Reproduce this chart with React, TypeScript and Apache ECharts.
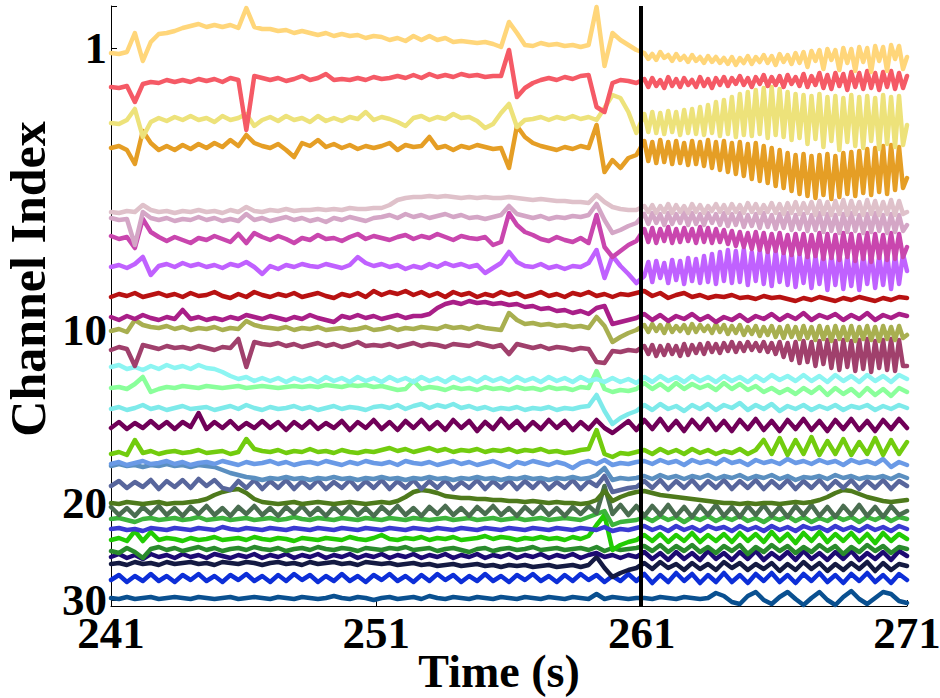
import React, { useEffect, useRef } from 'react';
import * as echarts from 'echarts';

// Every trace: 67 samples every 0.3 s from 241 s (to 260.8 s), then the rest of its
// values evenly spread from 261.1 s to 271 s (0.3 s or 0.15 s apart).
const LEFT_START = 241;
const LEFT_STEP = 0.3;
const LEFT_COUNT = 67;
const RIGHT_START = 261.1;
const T_END = 271;
const xTickValues = [241, 251, 261, 271];
const yTickValues = [42, 324, 497, 594];
const yTickLabels = ['1', '10', '20', '30'];
const markerTime = 260.97;

// display offset of each channel on the (reversed) channel axis
const channelOffsets = [
  39, 79, 114, 142, 204, 214, 231, 260, 289, 312,
  323, 342, 369, 381, 402, 419, 446, 457, 472, 478,
  497, 505, 513, 523, 533, 543, 550, 557, 572, 592,
];

const channelColors = [
  '#FFD67A', '#F55A66', '#EDE27A', '#E59E25', '#DFC1CA', '#D4A6C6', '#C946AE', '#C061FF', '#B81212', '#A91F88',
  '#A8AF50', '#A0406C', '#8CF5F2', '#8AFF9B', '#7DEAEA', '#700058', '#72CC0E', '#6A9AE6', '#5B8FC0', '#58669C',
  '#4E7A1C', '#4A6E50', '#3CB43C', '#3A3AD2', '#22CC04', '#2A8A2C', '#1C0A72', '#141A42', '#0C2ED8', '#0A5090',
];

// signal of each channel (display units, positive = downward)
const ch01 = [8, 9, 7, -12, 16, -3, -11, -12, -14, -17, -19, -21, -18, -20, -18, -20, -17, -37, -18, -16, -16, -14, -15, -12, -14, -12, -10, -12, -9, -11, -9, -10, -7, -9, -8, -5, -7, -4, -9, -5, -9, -5, -7, -3, -4, -3, -2, -3, -1, 2, -23, -12, 0, 1, -2, 0, -1, 1, 0, 2, 0, -38, 21, -12, -5, 0, 5,
  8, 14, 9, 15, 7, 13, 10, 16, 9, 15, 11, 17, 10, 16, 12, 18, 11, 17, 12, 18,
  13, 19, 12, 20, 13, 18, 11, 19, 12, 17, 10, 18, 11, 20, 9, 17, 10, 19, 8, 18,
  7, 22, 6, 16, 5, 24, 4, 15, 5, 25, 3, 18, 4, 26, 2, 17, 3, 27, 1, 16, 2, 26, 0, 14, 1, 24, 12];
const ch02 = [2, 3, 1, 17, -1, -3, -2, -5, -3, -5, -3, -6, -4, -6, -3, -7, -5, 45, -9, -7, -5, -7, -4, -6, -9, -5, -7, -11, -5, -6, -5, -7, -5, -8, -6, -7, -9, -7, -10, -7, -11, -8, -10, -8, -11, -9, -10, -8, -9, -9, -35, 12, 3, -2, -5, -7, -5, -8, -6, -9, -10, 22, 27, -2, -5, -4, -2,
  -6, 2, -7, 1, -5, 3, -8, 1, -6, 2, -7, 0, -5, 2, -8, 1, -6, 3, -7, 0,
  -8, 1, -7, -1, -9, 0, -7, 2, -8, -1, -10, 1, -8, 0, -9, 2, -10, -1, -8, 1,
  -11, 2, -9, 0, -12, 3, -10, 4, -12, 1, -11, 5, -13, 2, -12, 4, -14, 3, -12, 5, -13, 2, -14, 4, -12, 3, -9];
const ch03 = [3, 4, 0, -11, 17, 2, -2, 1, -3, 0, -4, 0, -2, 2, -4, 0, -2, -6, 6, 0, -3, 1, -4, 0, -2, 2, -4, 1, -2, 1, -3, -1, -8, 0, -3, -1, 2, 6, -2, -4, 0, -3, -1, -6, -2, -3, 1, 8, 4, -7, -16, 7, 0, -1, -3, 0, -3, -1, -4, -1, -3, 0, -12, -25, -22, -8, 13,
  -6, 12, -8, 13, -7, 14, -9, 12, -8, 15, -10, 13, -11, 14,
  -13, 15, -15, 13, -18, 16, -20, 14, -23, 17, -26, 15, -28, 16, -30, 14, -32, 18, -33, 15, -31, 17,
  -28, 20, -26, 18, -25, 24, -24, 19, -26, 27, -23, 21, -24, 30, -22, 22, -25, 26, -23, 28, -24, 21, -22, 29, -25, 24, -23, 27, -24, 25, 5];
const ch04 = [0, -2, 2, 16, -17, -5, 2, -2, 2, -3, 1, -4, 0, -5, -1, -8, -2, -13, -5, -2, 0, -4, 2, 9, -5, -2, -8, -1, -4, 0, -3, 1, -2, 0, -2, -5, 2, -3, -1, -2, -11, 0, -2, 2, -2, 0, -3, -1, 1, 0, 20, -22, -11, -5, -2, 0, 2, -1, 1, -2, 0, -23, 24, 12, 20, 10, 7,
  -7, 13, -6, 15, -8, 14, -6, 16, -7, 15, -5, 17, -7, 16,
  -6, 18, -8, 20, -6, 22, -7, 24, -5, 26, -6, 28, -4, 31, -5, 33, -2, 35, 0, 38, 2, 40,
  5, 43, 7, 46, 6, 48, 8, 50, 7, 47, 6, 51, 8, 49, 5, 46, 4, 48, 3, 45, 1, 47, 0, 44, -2, 46, -3, 42, -1, 40, 30];
const ch05 = [2, 3, 1, 2, -5, 0, 2, 1, 3, 1, 2, 0, 2, 1, 3, 0, 2, -3, 1, 2, 0, 1, -1, 1, 0, 0, -1, 0, -1, 0, -2, -1, -1, -2, -2, -5, -10, -12, -13, -13, -14, -13, -14, -13, -12, -13, -12, -13, -12, -12, -13, -12, -11, -10, -11, -10, -9, -9, -8, -8, -7, -15, -8, -3, -1, 0, 0,
  -4, 2, -5, 3, -4, 2, -6, 3, -5, 2, -4, 3, -6, 2, -5, 3, -4, 1, -6, 2,
  -5, 3, -6, 2, -5, 3, -7, 2, -6, 3, -5, 2, -7, 3, -6, 4, -7, 3, -8, 4,
  -7, 3, -8, 5, -9, 4, -8, 5, -9, 4, -10, 5, -9, 4, -8, 5, -10, 4, -9, 5, -8, 4, -10, 5, -9, 4, 2];
const ch06 = [-2, 0, -1, 25, -8, -2, 0, -2, 1, -1, 0, -3, 0, -2, 1, -1, 1, -6, 0, -2, 1, -1, -3, 0, -2, 1, -1, 2, -2, 0, -3, -1, 1, -2, -3, -5, -2, -6, -3, -5, -2, -4, -6, -3, -5, -2, -3, -1, -3, -5, -14, -6, -4, -2, -4, -1, -3, -2, -4, -3, -5, -16, 0, 13, 10, 6, 3,
  -6, 4, -7, 3, -6, 5, -7, 4, -6, 3, -8, 5, -7, 4, -6, 5, -7, 3, -6, 5,
  -7, 6, -6, 5, -7, 7, -5, 6, -6, 8, -7, 7, -5, 9, -6, 8, -7, 10, -5, 9,
  -6, 11, -5, 10, -7, 12, -6, 11, -5, 13, -6, 12, -7, 11, -5, 13, -6, 12, -7, 11, -5, 13, -6, 12, -5, 11, 5];
const ch07 = [-1, 2, 0, 11, -18, -5, 0, 4, 0, 3, 6, 1, 3, -1, 2, 5, -3, 6, -4, 0, 3, -1, 2, 6, 1, 3, -2, 2, 1, 4, 0, -3, 2, -1, 1, 3, 0, -2, 2, -1, 1, -3, 0, 3, -1, 1, 2, 0, 8, 5, -24, -12, -5, -2, 2, 4, 0, 3, 5, 1, 6, -22, 10, 20, 14, 8, 4,
  -8, 5, -9, 6, -8, 4, -10, 6, -8, 5, -9, 4, -8, 6, -10, 5, -9, 6, -8, 5,
  -7, 7, -6, 9, -5, 10, -4, 12, -5, 13, -4, 15, -3, 14, -4, 16, -2, 18, -3, 17,
  -3, 20, -2, 19, -4, 22, -3, 21, -2, 23, -4, 20, -3, 24, -2, 22, -4, 25, -3, 21, -2, 23, -4, 22, -3, 20, 10];
const ch08 = [1, -1, 2, -2, -9, 9, 0, -2, 1, -3, 0, -2, 1, -1, 2, -2, 0, -4, 1, 8, 0, 3, -1, 1, -2, 0, 1, -2, 0, 2, -1, -9, -3, 0, -2, 1, -1, 3, 0, 2, -2, 1, -3, 0, -2, 1, -1, 7, 2, -3, -14, -4, 0, 1, -2, 2, 0, 3, 0, 1, -3, -16, 12, -10, 0, 8, 17,
  10, -4, 16, -5, 12, -3, 17, -6, 14, -5, 18, -8, 15, -7, 17, -10, 16, -12, 18, -14,
  15, -16, 17, -15, 16, -17, 19, -14, 15, -16, 18, -13, 20, -15, 16, -12, 19, -14, 21, -11,
  17, -13, 22, -10, 18, -12, 24, -11, 19, -13, 23, -10, 20, -12, 24, -11, 18, -13, 22, -10, 19, -12, 23, -11, 18, -12, 5];
const ch09 = [2, -1, 1, -2, 2, 0, -2, 1, -1, 2, -2, 1, 0, -3, 1, 3, -1, 2, -3, 0, 2, -1, 1, -2, 2, 0, -2, 1, 3, -1, 1, -2, 2, -4, 0, -3, -1, -4, 0, -3, 1, -2, 2, -3, 0, -2, 2, -1, 1, -3, 0, -2, 2, 0, -3, 1, -1, 2, -2, 0, -3, 1, -1, 2, -1, 0, -2, -4, 1, -2, 3, 0, -2, 2, 0, 3, 1, 2, 0, 3, 2, 4, 1, 3, 2, 4, 6, 3, 5, 2, 4, 6, 3, 5, 2, 4, 6, 3, 5, 2, 3];
const ch10 = [-1, 2, -2, 1, -3, 0, 2, -1, 1, -8, 1, -1, 2, 0, 2, -1, 1, -3, -1, 1, -2, 0, 2, -1, 1, -3, 0, 2, 4, -2, 0, -3, 0, -2, 1, -1, -3, 0, -2, -2, -4, -10, -14, -16, -14, -17, -15, -16, -14, -15, -13, -14, -11, -12, -9, -10, -7, -8, -5, -7, -4, -10, -12, 6, 4, 2, 0, -4, 2, -3, 3, -2, 1, -4, 2, -2, 4, -1, 2, -3, 3, -2, 1, -4, 2, -3, 1, -5, 2, -3, 0, -4, 2, -3, 1, -5, 2, -3, 0, -4, -2];
const ch11 = [2, 0, 3, -9, -4, -2, -1, -3, 0, -2, 1, -1, 0, -2, 1, -1, 0, -8, -4, -2, -1, 0, -2, 1, -1, 0, -2, 1, 0, -1, 1, 0, -2, 1, 0, -2, 1, -1, 0, -2, -1, 0, -3, -1, -2, 0, -3, -1, 0, 1, -16, -9, -5, -6, -4, -5, -3, -4, -2, -3, -1, -12, -3, 13, 8, 4, 1,
  -4, 3, -5, 2, -4, 4, -5, 3, -3, 2, -4, 4, -5, 3, -4, 2, -3, 4, -5, 3,
  -4, 5, -3, 4, -4, 6, -2, 5, -3, 7, -2, 6, -3, 8, -2, 9, -3, 8, -2, 10,
  -3, 9, -2, 11, -3, 10, -2, 12, -3, 10, -2, 11, -3, 12, -2, 10, -3, 11, -2, 12, -3, 10, -2, 11, -3, 9, 6];
const ch12 = [2, -1, 1, 18, -3, -1, 1, -2, 0, -1, 1, -2, 0, 2, -1, 0, -9, 19, -6, -4, -3, -5, -2, -4, -1, -3, -5, -2, -4, -1, -3, -6, -2, -3, -2, -4, -1, -3, -5, -2, -4, -3, -1, -4, -3, -2, -5, -3, -1, -3, 6, -4, -2, 0, -2, 1, -1, 0, 2, 0, 1, 14, 15, 3, 4, 2, 3,
  -2, 6, -3, 8, -2, 7, -3, 6, -2, 8, -4, 7, -3, 5, -4, 6, -5, 4, -4, 5,
  -5, 3, -6, 4, -5, 3, -6, 2, -5, 3, -6, 4, -5, 6, -6, 9, -5, 12, -6, 15,
  -7, 14, -6, 18, -7, 16, -8, 20, -7, 22, -8, 19, -7, 23, -8, 21, -9, 24, -7, 20, -8, 22, -9, 23, -8, 18, 18];
const ch13 = [-8, -10, -6, -8, -5, -9, -6, -10, -7, -9, -6, -10, -7, -6, -3, 1, 4, 2, 6, 3, 6, 3, 7, 3, 6, 3, 7, 2, 6, 3, 7, 2, 6, 3, 7, 2, 6, 3, 7, 2, 6, 3, 7, 2, 6, 3, 7, 2, 6, 3, 7, 2, 6, 3, 7, 2, 6, 3, 7, 2, 6, 4, 7, 3, 7, 4, 8, 2, 7, 1, 6, 2, 7, 1, 6, 2, 7, 1, 6, 2, 7, 1, 6, 0, 5, 1, 6, 0, 6, 1, 7, 0, 6, 1, 7, 0, 6, 1, 7, 0, 4];
const ch14 = [1, 0, 2, -3, -10, 5, 2, 0, 1, -1, 0, 1, -1, 0, 1, 0, -1, 1, 0, -1, 0, 1, 0, -1, 0, -1, 0, -2, -1, 0, -2, -1, -2, 0, -1, 1, 3, 2, -6, 2, 0, 1, 3, 0, 2, 1, 3, 0, 2, 1, 3, 0, 2, 1, 3, 0, 2, 1, 3, 0, 1, -16, 2, 5, 3, 4, 2, -4, 2, -3, 3, -4, 2, -3, 1, -2, 3, -4, 2, -3, 3, -1, 5, 1, 6, 2, 7, 1, 6, 0, 8, 1, 7, 2, 9, 1, 8, 2, 9, 1, 5];
const ch15 = [1, -1, 2, 0, -3, 1, -1, 2, 0, -2, 1, 0, -1, 2, 0, -2, 1, -3, 0, 2, -1, 1, 0, -2, 1, -1, 2, 0, -2, 1, -1, 0, 2, -1, -2, 0, -3, 1, -2, -4, 0, -3, -1, -4, 0, -2, 1, -1, 2, 0, 1, -1, 2, 0, 1, -1, 2, 0, 1, -1, -2, -13, 3, 16, 10, 6, 3, -3, 2, -4, 1, -2, 3, -3, 1, -4, 2, -3, 0, -5, 2, -3, 1, -4, 3, -2, 1, -3, 2, -2, 1, -3, 2, -2, 0, -3, 2, -2, 1, -3, 0];
const ch16 = [3, -3, 4, -2, 3, -4, 3, -3, 4, -3, 2, -12, 4, -3, 3, -4, 4, -2, 3, -4, 3, -3, 5, -3, 3, -4, 4, -2, 3, -4, 5, -3, 3, -5, 4, -3, 5, -4, 3, -5, 4, -3, 5, -5, 3, -4, 6, -3, 4, -6, 3, -4, 5, -3, 4, -5, 3, -4, 5, -3, 4, -5, 3, 8, 2, -4, 5, -5, 4, -6, 5, -4, 6, -5, 4, -6, 5, -4, 6, -5, 4, -6, 5, -4, 6, -5, 4, -6, 5, -4, 6, -5, 4, -6, 5, -4, 6, -5, 4, -6, 3];
const ch17 = [2, 0, 3, -12, 1, -1, 2, 0, -1, 1, 0, -2, 1, 0, -1, 2, 0, -13, -3, -1, 0, -2, 1, -1, 0, -3, 0, -1, 1, -2, 0, 1, -1, 0, -2, -4, -1, -3, 0, -2, -4, -1, -3, 0, -2, -1, -3, 0, -2, -1, -3, 0, -2, -1, -3, 0, -1, 1, 0, -2, -3, -22, 2, 5, 1, 2, 0, -2, 2, -3, 1, -2, 2, -3, 1, -2, 2, -1, 1, -3, 2, -2, -12, 2, -14, 3, -12, 2, -15, 3, -11, 2, -13, 3, -10, 2, -14, 3, -12, 2, -10];
const ch18 = [1, -1, 2, 0, -2, 1, 0, -2, 1, -1, 2, 0, -1, 1, -2, 0, 2, -1, 1, 0, -2, 1, -1, 2, 0, -1, 1, -2, 0, 2, -1, 1, -2, 0, 1, -1, 2, -2, 0, 1, -1, 2, 0, -2, 1, -1, 2, 0, -2, 1, 4, -1, 1, -2, 0, 2, -1, 1, 5, 0, -2, 1, -3, 2, 0, 1, -1, -2, 1, -3, 0, -2, 2, -3, 0, -2, 1, -4, 0, -2, 2, -3, 0, -2, 1, -4, 0, -2, 1, -3, 0, -2, 2, -3, 0, -2, 1, -4, 4, -1, 2];
const ch19 = [-12, -14, -12, -13, -11, -13, -12, -14, -12, -13, -11, -13, -12, -11, -8, -5, -3, -1, 0, 2, 0, 1, -1, 1, 0, 2, 0, 1, -1, 1, 0, 2, 0, 1, -1, 1, 0, 2, 0, 1, -1, 1, 0, 2, 0, 1, -1, 1, 0, 2, 0, 1, -1, 1, 0, 2, 0, 1, -1, 1, 0, -3, -10, 2, 0, 1, 0, -2, 1, -3, 0, -2, 1, -2, 0, -3, 1, -2, 0, -3, 1, -2, 0, -3, 1, -2, 2, -1, 0, -2, 1, -3, 0, -2, 1, -1, 0, -2, 1, -3, 0];
const ch20 = [2, -3, 4, -2, 3, -4, 5, -3, 3, -4, 4, -5, 2, -4, 4, 6, -3, 4, -4, 5, -3, 4, -4, 5, -3, 4, -4, 5, -2, 4, -4, 5, -3, 4, -4, 5, -3, 4, -4, 5, -3, 4, -4, 5, -2, 4, -4, 5, -3, 4, -4, 5, -3, 4, -4, 5, -2, 4, -4, 5, -3, 2, -8, 8, 6, 4, 3, -3, 4, -4, 5, -3, 4, -4, 5, -3, 4, -4, 5, -3, 4, -4, 5, -3, 4, -4, 5, -3, 4, -4, 5, -3, 4, -4, 5, -3, 4, -4, 5, -3, 2];
const ch21 = [0, 1, -1, 0, 1, 0, -1, 1, 0, 0, -1, -2, -4, -8, -11, -13, -14, -10, -4, -1, 0, 1, 0, -1, 1, 0, -1, 0, 1, 0, -1, 0, 1, 0, -1, 0, -2, -6, -11, -13, -12, -10, -7, -6, -5, -5, -4, -4, -3, -3, -2, -2, -1, -2, -1, 0, -1, 0, 0, 1, 0, -3, -12, -2, -6, -9, -11, -12, -10, -8, -7, -6, -5, -4, -3, -2, -1, 0, 0, 1, 0, 1, 0, 0, 1, 0, -1, 0, -1, -3, -6, -10, -13, -12, -9, -6, -4, -2, -1, -2, -3];
const ch22 = [-4, 4, -3, 5, -4, 3, -5, 4, -3, 5, -4, 3, -5, 4, -3, 5, -4, 3, -5, 4, -3, 5, -4, 3, -5, 4, -3, 5, -4, 3, -5, 4, -3, 5, -4, 3, -5, 4, -3, 5, -4, 3, -5, 4, -3, 5, -4, 3, -5, 4, -3, 5, -4, 3, -5, 4, -3, 5, -4, 3, -5, 2, -25, 3, -6, 4, -5, 5, -5, 4, -6, 5, -4, 6, -5, 4, -6, 5, -4, 6, -5, 4, -6, 5, -4, 6, -5, 4, -6, 5, -4, 6, -5, 4, -6, 5, -4, 6, -5, 4, 0];
const ch23 = [0, -1, 1, 3, 0, -1, 1, 0, -1, 1, 0, -2, 1, 0, -1, 1, 0, -1, 1, 0, -1, 1, 0, -2, 0, 1, -1, 0, 1, -1, 0, 1, -1, 0, 1, -1, 0, 1, -1, 0, 1, 0, -1, 1, 0, -1, 1, 0, -1, 1, 0, -1, 1, 0, -1, 1, 0, -1, 0, 1, -2, -5, -8, 6, 3, 2, 1, -2, 2, -3, 1, -2, 3, -2, 1, -3, 2, -2, 1, -3, 2, -1, 3, -2, 1, -3, 2, -2, 3, -1, 2, -3, 1, -2, 3, -2, 1, -3, 2, -2, 0];
const ch24 = [0, -1, 1, 0, 2, -1, 0, 1, -1, 0, 1, -1, 0, 1, -2, 0, 1, -1, 0, 1, -1, 0, 1, -1, 0, 1, -1, 0, 1, -1, 0, 1, -1, 0, 1, -1, 0, 1, -1, 0, 1, -1, 0, 1, -1, 0, 1, -1, 0, 1, -1, 0, 1, -1, 0, 1, -1, 0, 1, -1, 0, 1, -2, 2, 0, 1, -1, -3, 1, -2, 2, -3, 1, -2, 2, -3, 0, -2, 2, -3, 1, -2, 2, -3, 1, -2, 2, -3, 0, -2, 2, -3, 1, -2, 2, -3, 1, -2, 2, -3, 0];
const ch25 = [1, -1, 2, -8, 2, -7, 1, -1, 0, 2, -1, 1, 0, -2, 1, 0, -1, 1, -2, 0, 1, -1, 0, 2, -1, 0, 1, -1, 0, 1, -2, 0, 1, -1, -4, 0, 1, -1, 0, -2, 1, -1, 0, -2, 1, 0, -1, -3, 0, -2, -1, 1, -1, 0, -2, 0, -1, 1, -2, 0, -3, -14, -24, 11, 6, 3, 1, -4, 2, -5, 3, -4, 2, -6, 3, -4, 2, -5, 3, -6, 2, -5, 3, -7, 2, -5, 4, -6, 2, -7, 3, -5, 2, -6, 3, -5, 4, -6, 2, -5, 0];
const ch26 = [2, 4, -1, 3, 9, 0, -2, 1, -1, 2, 0, -2, 1, -1, 2, 0, -1, 1, -2, 0, 1, -1, 2, 0, -1, 1, -2, 0, 1, -1, 0, 2, -1, 0, 1, -1, 0, -2, 1, 0, -1, 2, 0, -1, 1, 3, 0, -1, 2, 0, -1, 1, 0, -2, 1, 0, -1, 1, 0, -1, 1, -2, 2, -1, 1, 0, -1, -3, 2, -4, 3, -3, 2, -4, 3, -2, 4, -3, 2, -4, 5, -2, 3, -4, 2, -3, 4, -2, 3, -4, 2, -3, 5, -2, 3, -4, 2, -3, 4, -2, 0];
const ch27 = [1, -2, 2, -1, 3, -2, 1, -1, 2, -2, 1, -1, 2, -2, 0, 2, -1, 1, -2, 2, -1, 1, -2, 2, -1, 1, -2, 2, -1, 1, -2, 2, -1, 1, -2, 2, -1, 1, -2, 2, -1, 1, -2, 2, -1, 1, -2, 2, -1, 1, -2, 2, -1, 1, -2, 2, -1, 1, -2, 2, -1, -3, 1, -1, 2, -1, 1, -4, 3, -3, 4, -4, 3, -3, 4, -5, 3, -3, 4, -4, 3, -5, 4, -3, 3, -4, 4, -5, 3, -3, 4, -4, 3, -5, 4, -3, 3, -4, 4, -5, 0];
const ch28 = [1, 0, 2, -1, 1, 0, 2, -1, 1, 0, -1, 1, 0, 2, -1, 0, 1, -1, 0, 2, 0, -1, 1, 0, 2, -1, 1, 0, -1, 1, 0, 2, -1, 0, 1, 0, 2, 1, 0, 2, 1, 3, 2, 1, 3, 2, 1, 3, 2, 4, 2, 3, 2, 4, 3, 2, 4, 3, 2, 4, 2, -6, 5, 14, 10, 7, 5, 0, 6, -1, 5, 1, 7, 0, 6, 1, 7, -1, 5, 0, 7, 1, 6, 0, 8, 1, 7, -1, 6, 0, 8, 1, 7, 0, 6, -1, 8, 0, 7, 1, 3];
const ch29 = [2, -3, 4, -2, 3, -4, 3, -2, 4, -3, 2, -4, 3, -2, 4, -3, 2, -4, 3, -2, 4, -3, 3, -4, 2, -3, 4, -2, 3, -4, 3, -2, 4, -3, 2, -4, 3, -2, 4, -3, 3, -4, 2, -3, 4, -2, 3, -4, 3, -2, 4, -3, 2, -4, 3, -2, 4, -3, 3, -4, 2, -3, 4, -2, 3, -4, 3, -4, 5, -3, 4, -5, 3, -4, 5, -3, 4, -5, 4, -3, 5, -4, 3, -5, 4, -3, 5, -4, 3, -5, 4, -3, 5, -4, 3, -5, 4, -3, 5, -4, 2];
const ch30 = [0, 1, -1, 1, 0, -1, 1, 0, -1, 0, 1, -1, 0, 1, 0, -1, 1, 0, -1, 0, 1, -1, 0, 1, -1, 0, 1, 0, -2, 0, 1, -1, 0, 2, 0, -1, 1, 0, -1, 1, -2, 0, 1, -1, 0, 1, -1, 0, 1, -1, 0, 1, -1, 0, 1, -1, 0, 1, -1, 0, 1, -4, 1, -1, 0, 1, 0, 0, 1, -1, 0, 1, -1, 0, 1, 0, -5, -2, 4, 6, -2, -6, 2, 6, -1, -6, 1, 7, 0, -6, 2, 7, -1, -7, 1, 6, 0, -6, -4, 3, 5];

const channels = [
  ch01, ch02, ch03, ch04, ch05, ch06, ch07, ch08, ch09, ch10,
  ch11, ch12, ch13, ch14, ch15, ch16, ch17, ch18, ch19, ch20,
  ch21, ch22, ch23, ch24, ch25, ch26, ch27, ch28, ch29, ch30,
];

const FONT = '"Liberation Serif", "Times New Roman", serif';

function sampleTime(i: number, n: number): number {
  if (i < LEFT_COUNT) return Math.round((LEFT_START + i * LEFT_STEP) * 1000) / 1000;
  const nRight = n - LEFT_COUNT;
  const j = i - LEFT_COUNT;
  return Math.round((RIGHT_START + (j * (T_END - RIGHT_START)) / (nRight - 1)) * 1000) / 1000;
}

export default function App() {
  const ref = useRef<HTMLDivElement>(null);

  useEffect(() => {
    if (!ref.current) return;
    const chart = echarts.init(ref.current, null, { renderer: 'svg' });

    const series: any[] = channels.map((sig, c) => ({
      type: 'line',
      name: 'Channel ' + (c + 1),
      symbol: 'none',
      showSymbol: false,
      silent: true,
      lineStyle: { color: channelColors[c], width: 4.5, cap: 'round', join: 'round' },
      data: sig.map((v, i) => [sampleTime(i, sig.length), channelOffsets[c] + v]),
    }));
    // the first channel is drawn on top
    series.reverse();
    series[series.length - 1].markLine = {
      silent: true,
      symbol: ['none', 'none'],
      label: { show: false },
      lineStyle: { color: '#000', width: 4, type: 'solid' },
      data: [{ xAxis: markerTime }],
    };

    chart.setOption({
      animation: false,
      backgroundColor: '#fff',
      grid: { left: 111, right: 33, top: 6, bottom: 92, containLabel: false, outerBoundsMode: 'none' },
      xAxis: {
        type: 'value',
        min: LEFT_START,
        max: T_END,
        name: 'Time (s)',
        nameLocation: 'middle',
        nameGap: 45,
        nameMoveOverlap: false,
        nameTextStyle: {
          fontFamily: FONT, fontWeight: 'bold', fontSize: 46, lineHeight: 40, color: '#000',
          padding: [0, 20, 0, 0], verticalAlign: 'top',
        },
        axisLine: { onZero: false, lineStyle: { color: '#000', width: 1 } },
        axisTick: { inside: true, length: 6, lineStyle: { color: '#000' }, customValues: xTickValues },
        axisLabel: {
          customValues: xTickValues, fontFamily: FONT, fontWeight: 'bold', fontSize: 45, lineHeight: 30,
          color: '#000', margin: 12, hideOverlap: false,
        },
        splitLine: { show: false },
      },
      yAxis: {
        type: 'value',
        inverse: true,
        min: 0,
        max: 600,
        axisLine: { show: true, onZero: false, lineStyle: { color: '#000', width: 1 } },
        axisTick: { show: true, inside: true, length: 6, lineStyle: { color: '#000' }, customValues: [0, ...yTickValues] },
        axisLabel: {
          customValues: yTickValues,
          formatter: (v: number) => {
            const k = yTickValues.indexOf(v);
            return k >= 0 ? yTickLabels[k] : '';
          },
          fontFamily: FONT, fontWeight: 'bold', fontSize: 45, lineHeight: 30, color: '#000', margin: 4, hideOverlap: false,
        },
        splitLine: { show: false },
      },
      graphic: [
        {
          type: 'text',
          x: 28,
          y: 279,
          rotation: Math.PI / 2,
          style: {
            text: 'Channel Index',
            fontFamily: FONT,
            fontWeight: 'bold',
            fontSize: 50,
            fill: '#000',
            textAlign: 'center',
            textVerticalAlign: 'middle',
          },
        },
      ],
      series,
    });

    return () => chart.dispose();
  }, []);

  return (
    <div
      ref={ref}
      style={{ position: 'fixed', left: 0, top: 0, width: 940, height: 698, background: '#fff' }}
    />
  );
}
